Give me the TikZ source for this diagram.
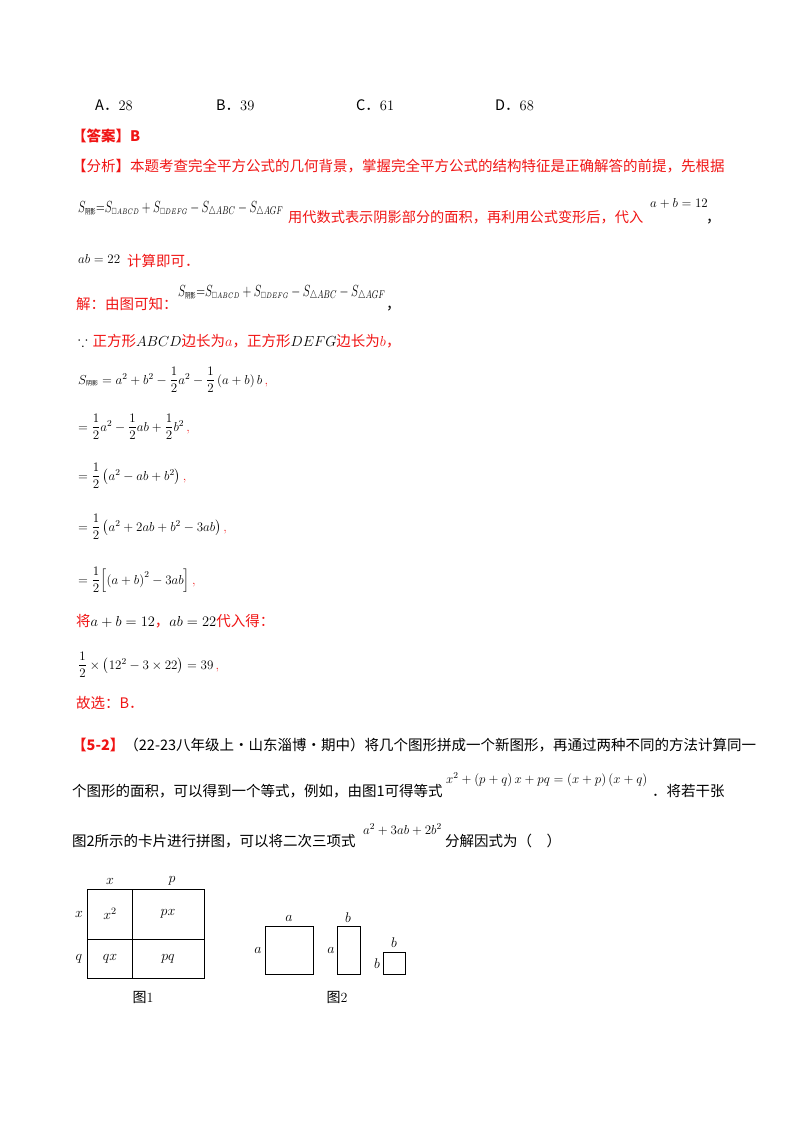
\RequirePackage{fix-cm}
\documentclass[tikz,border=0pt]{standalone}
\usepackage{amsmath,amssymb}
\usepackage{fontspec}
\newfontfamily\cjk{Noto Sans CJK SC}
\definecolor{ansred}{RGB}{240,20,20}
\newcommand{\fs}{\fontsize{14.5}{17}\selectfont}
\newcommand{\yy}[1]{\text{\cjk\fontsize{6}{7}\selectfont #1}}
\newcommand{\sq}{\scriptscriptstyle\square}
\newcommand{\rc}{\,{\color{ansred}$,$}}
\begin{document}
\begin{tikzpicture}[x=1pt,y=-1pt,
 t/.style={anchor=base west,inner sep=0pt,font=\fs},
 r/.style={t,text=ansred},
 m/.style={anchor=base west,inner sep=0pt,font=\fontsize{13}{15}\selectfont},
 lab/.style={inner sep=0pt,font=\fontsize{14}{16}\selectfont},
 box/.style={draw,line width=0.9pt}]
\useasboundingbox (0,0) rectangle (800,1132);
% options
\node[t] (oa) at (95,110) {{\cjk A．}28};
\node[t] (ob) at (216,110) {{\cjk B．}39};
\node[t] (oc) at (356,110) {{\cjk C．}61};
\node[t] (od) at (495,110) {{\cjk D．}68};
\node[r] (ans) at (72,141) {\cjk\bfseries 【答案】B};
\node[r] (l1) at (72,171) {\cjk 【分析】本题考查完全平方公式的几何背景，掌握完全平方公式的结构特征是正确解答的前提，先根据};
\node[m] (f1) at (78,212) {\resizebox{205pt}{11pt}{$S_{\yy{阴影}}{=}S_{\sq ABCD}+S_{\sq DEFG}-S_{\triangle ABC}-S_{\triangle AGF}$}};
\node[r,font=\fontsize{14.2}{16}\selectfont] (l2) at (288,222) {\cjk 用代数式表示阴影部分的面积，再利用公式变形后，代入};
\node[m] (f2) at (650,207) {$a+b=12$};
\node[t] (c2) at (706,222) {\cjk ，};
\node[m] (f3) at (78,263) {$ab=22$};
\node[r] (l3) at (127,266) {\cjk 计算即可．};
\node[r] (l4) at (76,309) {\cjk 解：由图可知：};
\node[m] (f4) at (178,296) {\resizebox{207pt}{11pt}{$S_{\yy{阴影}}{=}S_{\sq ABCD}+S_{\sq DEFG}-S_{\triangle ABC}-S_{\triangle AGF}$}};
\node[t] (c4) at (386,309) {\cjk ，};
\node[t] (l5) at (78,346) {$\because$ {\color{ansred}\cjk 正方形}$ABCD${\color{ansred}\cjk 边长为}{\color{ansred}$a$}{\color{ansred}\cjk ，正方形}$DEFG${\color{ansred}\cjk 边长为}{\color{ansred}$b$}{\color{ansred}\cjk ，}};
\node[m] (e1) at (78,384) {$S_{\yy{阴影}}=a^2+b^2-\dfrac12a^2-\dfrac12\left(a+b\right)b$\rc};
\node[m] (e2) at (78,431) {$=\dfrac12a^2-\dfrac12ab+\dfrac12b^2$\rc};
\node[m] (e3) at (78,480) {$=\dfrac12\left(a^2-ab+b^2\right)$\rc};
\node[m] (e4) at (78,531) {$=\dfrac12\left(a^2+2ab+b^2-3ab\right)$\rc};
\node[m] (e5) at (78,584) {$=\dfrac12\Bigl[\left(a+b\right)^2-3ab\Bigr]$\rc};
\node[r] (l6) at (76,626) {{\cjk 将}\textcolor{black}{$a+b=12$}{\cjk ，}\textcolor{black}{$ab=22$}{\cjk 代入得：}};
\node[m] (e6) at (78,669) {$\dfrac12\times\left(12^2-3\times22\right)=39$\rc};
\node[r] (l7) at (76,708) {\cjk 故选：B．};
\node[t] (p1) at (72,750) {{\color{ansred}\cjk\bfseries 【5-2】}{\cjk （22-23八年级上·山东淄博·期中）将几个图形拼成一个新图形，再通过两种不同的方法计算同一}};
\node[t] (p2) at (72,796) {\cjk 个图形的面积，可以得到一个等式，例如，由图1可得等式};
\node[m] (p2m) at (446,783) {$x^2+\left(p+q\right)x+pq=\left(x+p\right)\left(x+q\right)$};
\node[t] (p2b) at (652,796) {\cjk ．将若干张};
\node[t] (p3) at (72,846) {\cjk 图2所示的卡片进行拼图，可以将二次三项式};
\node[m] (p3m) at (363,834) {$a^2+3ab+2b^2$};
\node[t] (p3b) at (445,846) {\cjk 分解因式为（　）};
% figure 1
\draw[box] (87,889) rectangle (204,978);
\draw[box] (132,889) -- (132,978);
\draw[box] (87,939) -- (204,939);
\node[lab] (fx) at (110,881) {$x$};
\node[lab] (fp) at (172,881) {$p$};
\node[lab] (lx) at (79,914) {$x$};
\node[lab] (lq) at (79,959) {$q$};
\node[lab] (c11) at (110,914) {$x^2$};
\node[lab] (c12) at (168,914) {$px$};
\node[lab] (c21) at (110,959) {$qx$};
\node[lab] (c22) at (168,959) {$pq$};
\node[lab] (g1) at (143,997) {{\cjk 图}1};
% figure 2
\draw[box] (265,926) rectangle (313,974);
\draw[box] (337,926) rectangle (360,974);
\draw[box] (383,952) rectangle (405,974);
\node[lab] (a1) at (289,918) {$a$};
\node[lab] (a2) at (258,950) {$a$};
\node[lab] (b1) at (348,918) {$b$};
\node[lab] (a3) at (331,950) {$a$};
\node[lab] (b2) at (394,943) {$b$};
\node[lab] (b3) at (377,964) {$b$};
\node[lab] (g2) at (337,997) {{\cjk 图}2};
\end{tikzpicture}
\end{document}
